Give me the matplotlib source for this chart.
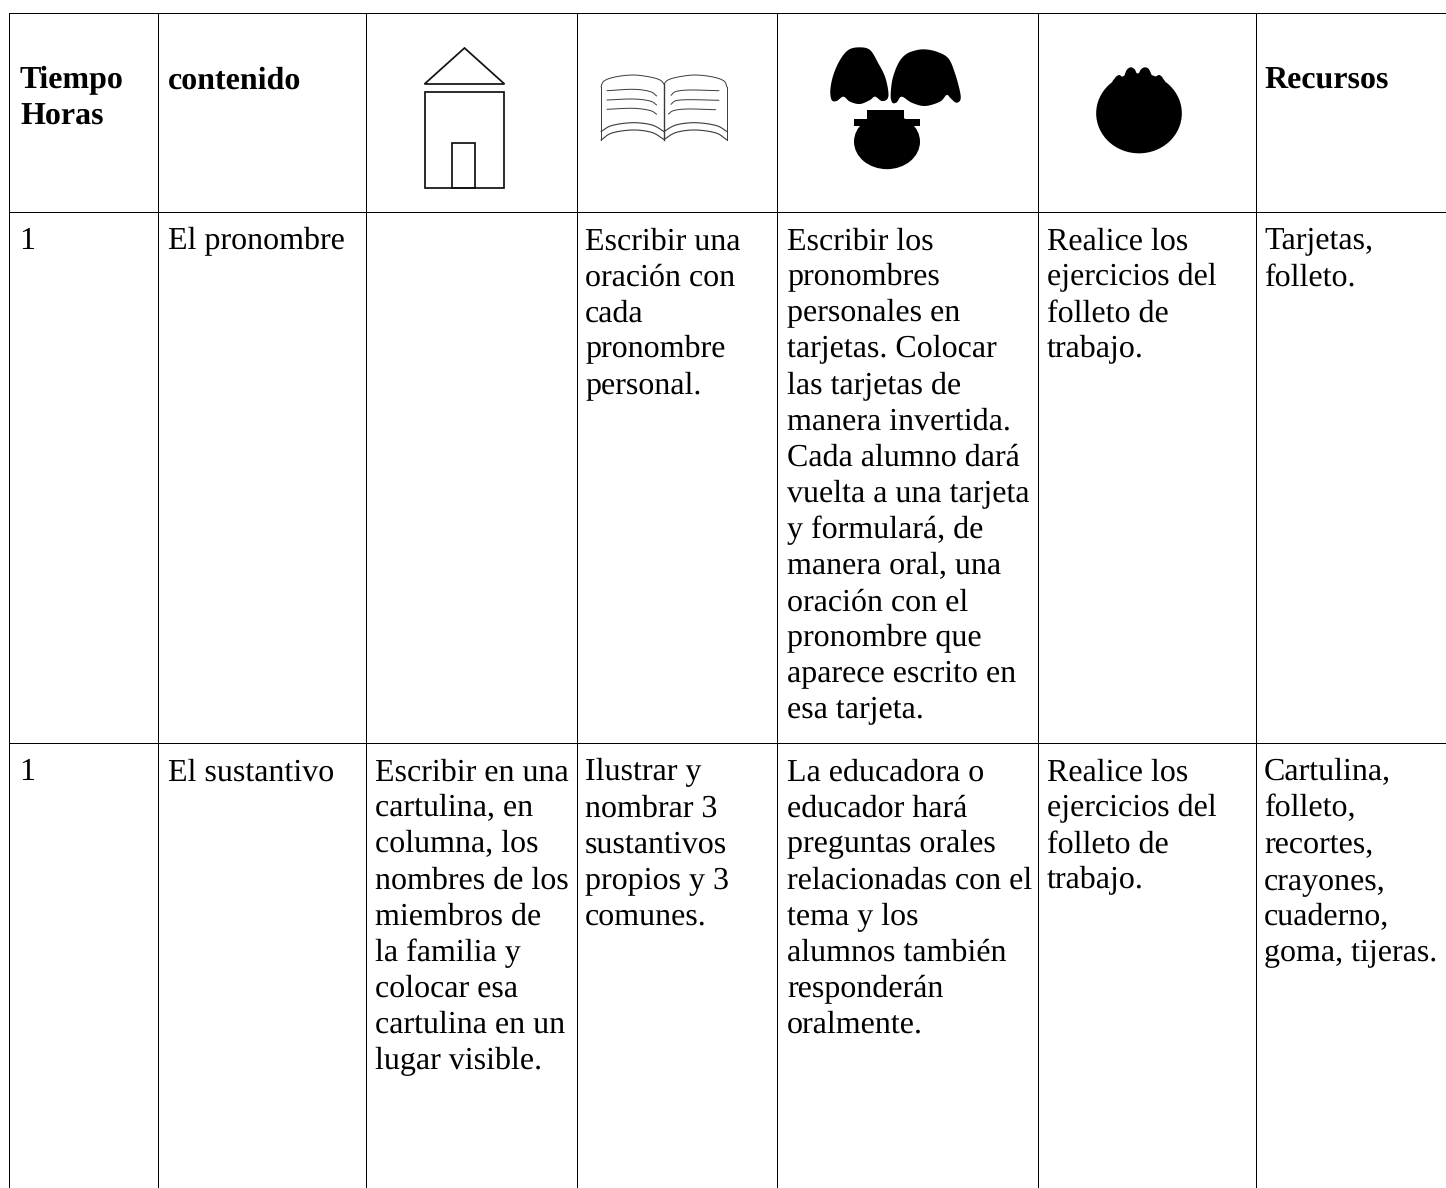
import matplotlib
matplotlib.use("Agg")
import numpy as np
import matplotlib.pyplot as plt
from matplotlib.patches import Polygon, Rectangle, Ellipse

plt.rcParams['text.hinting'] = 'no_hinting'
plt.rcParams['text.hinting_factor'] = 1

W, H = 1446, 1188
LINE_H = 36.1
FONT = 'Liberation Serif'
FS = 22.8

col_x = [9, 158, 366, 577, 777, 1038, 1256]
row_y = [13, 212, 743]

headers = [(20, ["Tiempo", "Horas"]), (168, ["contenido"]), (1264, ["Recursos"])]
row1 = [
    (19, ["1"]),
    (168, ["El pronombre"]),
    (585, ["Escribir una", "oración con", "cada", "pronombre", "personal."]),
    (787, ["Escribir los", "pronombres", "personales en", "tarjetas. Colocar",
           "las tarjetas de", "manera invertida.", "Cada alumno dará",
           "vuelta a una tarjeta", "y formulará, de", "manera oral, una",
           "oración con el", "pronombre que", "aparece escrito en", "esa tarjeta."]),
    (1047, ["Realice los", "ejercicios del", "folleto de", "trabajo."]),
    (1264, ["Tarjetas,", "folleto."]),
]
row2 = [
    (19, ["1"]),
    (168, ["El sustantivo"]),
    (375, ["Escribir en una", "cartulina, en", "columna, los", "nombres de los",
           "miembros de", "la familia y", "colocar esa", "cartulina en un", "lugar visible."]),
    (585, ["Ilustrar y", "nombrar 3", "sustantivos", "propios y 3", "comunes."]),
    (787, ["La educadora o", "educador hará", "preguntas orales", "relacionadas con el",
           "tema y los", "alumnos también", "responderán", "oralmente."]),
    (1047, ["Realice los", "ejercicios del", "folleto de", "trabajo."]),
    (1264, ["Cartulina,", "folleto,", "recortes,", "crayones,", "cuaderno,", "goma, tijeras."]),
]

fig = plt.figure(figsize=(W / 100, H / 100), dpi=100, facecolor='white')
ax = fig.add_axes([0, 0, 1, 1])
ax.set_xlim(0, W)
ax.set_ylim(H, 0)
ax.axis('off')

for y in row_y:
    ax.fill_between([9, W], y, y + 1, color='black', lw=0)
for x in col_x:
    ax.fill_betweenx([13, H], x, x + 1, color='black', lw=0)


def block(x, base, lines, weight='normal'):
    for i, s in enumerate(lines):
        ax.text(x, base + i * LINE_H, s, fontfamily=FONT, fontsize=FS, fontweight=weight,
                ha='left', va='baseline', color='black')


for x, lines in headers:
    block(x, 88.6, lines, 'bold')
for x, lines in row1:
    block(x, 249.3, lines)
for x, lines in row2:
    block(x, 780.3, lines)


def smooth(pts, closed=False, n=10):
    """Catmull-Rom curve through hand-read outline points."""
    p = np.asarray(pts, float)
    if closed:
        p = np.vstack([p[-1], p, p[0], p[1]])
    else:
        p = np.vstack([2 * p[0] - p[1], p, 2 * p[-1] - p[-2]])
    out = []
    t = np.linspace(0, 1, n, endpoint=False)[:, None]
    for i in range(1, len(p) - 2):
        a, b, c, d = p[i - 1], p[i], p[i + 1], p[i + 2]
        out.append(0.5 * (2 * b + (c - a) * t + (2 * a - 5 * b + 4 * c - d) * t ** 2
                          + (3 * b - a - 3 * c + d) * t ** 3))
    out.append(p[-2][None, :])
    return np.vstack(out)


# house icon
lw_h = 1.25
ic = '#111111'
ax.add_patch(Polygon([(424.5, 84), (464.5, 48), (504.5, 84)], closed=True, fill=False, ec=ic, lw=lw_h, joinstyle='miter'))
ax.add_patch(Rectangle((425, 91.7), 79, 96, fill=False, ec=ic, lw=lw_h))
ax.add_patch(Rectangle((451.7, 143.3), 23, 44.4, fill=False, ec=ic, lw=lw_h))

# book icon
bk = '#3a3a3a'


def bline(pts, lw=0.7):
    c = smooth(pts)
    ax.plot(c[:, 0], c[:, 1], color=bk, lw=lw, solid_capstyle='round')


# outer top edges
bline([(601, 87), (604, 81), (615, 77), (633, 75), (650, 77), (660, 80), (664, 84)])
bline([(664, 84), (668, 80), (678, 77), (695, 75), (713, 77), (724, 81), (727, 87)])
ax.plot([601, 601], [87, 140], color=bk, lw=0.7)
ax.plot([727, 727], [87, 140], color=bk, lw=0.7)
ax.plot([664, 664], [84, 140], color=bk, lw=1.0)
# page stacks
bline([(601, 131.5), (612, 125.5), (633, 122.7), (652, 125), (664, 131.5)], lw=0.8)
bline([(664, 131.5), (676, 125), (695, 122.7), (716, 125.5), (727, 131.5)], lw=0.8)
bline([(601, 140), (612, 133), (633, 130), (652, 132.5), (664, 139.5)], lw=0.8)
bline([(664, 139.5), (676, 132.5), (695, 130), (716, 133), (727, 140)], lw=0.8)
# text lines, left page
bline([(607, 90.7), (633, 89.3), (650, 91.5), (656.7, 96)])
bline([(607, 100), (633, 99), (650, 101), (656.7, 105)])
bline([(607, 109.3), (633, 108.3), (650, 110.5), (656.7, 114.3)])
# text lines, right page
bline([(671, 95.3), (676, 91.5), (690, 90), (719, 90.7)])
bline([(671, 104.3), (676, 100.7), (690, 99.7), (719, 100.3)])
bline([(668.3, 114), (674, 110.5), (688, 109), (715.7, 109.7)])


def Z2(pts):
    return [(x / 3 + 780, y / 3) for x, y in pts]


def blob(pts):
    c = smooth(Z2(pts), closed=True)
    ax.add_patch(Polygon(c, closed=True, fc='black', ec='none'))


# children icon
blob([(237, 142), (270, 150), (295, 190), (315, 230), (325, 275), (322, 297), (305, 303), (285, 290), (270, 300),
      (240, 312), (210, 305), (190, 290), (170, 303), (155, 300), (151, 270), (160, 225), (180, 180), (205, 150)])
blob([(432, 148), (470, 155), (505, 175), (525, 220), (540, 275), (541, 300), (528, 308), (512, 295), (500, 285),
      (480, 305), (435, 318), (395, 308), (365, 290), (350, 307), (337, 308), (332, 285), (338, 235), (355, 190),
      (375, 165), (400, 153)])
ax.add_patch(Rectangle((262 / 3 + 780, 110), 109 / 3, 9, fc='black', ec='none'))
ax.add_patch(Rectangle((222 / 3 + 780, 119), 198 / 3, 7, fc='black', ec='none'))
ax.add_patch(Ellipse((321 / 3 + 780, 425 / 3), 198 / 3, 165 / 3, fc='black', ec='none'))

# fruit icon
ax.add_patch(Ellipse((1077 / 3 + 780, 340 / 3), 257 / 3, 240 / 3, fc='black', ec='none'))
blob([(1002, 255), (1005, 234), (1018, 225), (1030, 232), (1040, 210), (1052, 202), (1064, 208), (1073, 224),
      (1083, 208), (1095, 202), (1107, 208), (1119, 232), (1130, 228), (1138, 225), (1148, 234), (1150, 255),
      (1075, 290)])

fig.savefig('out.png', dpi=100, facecolor='white')
